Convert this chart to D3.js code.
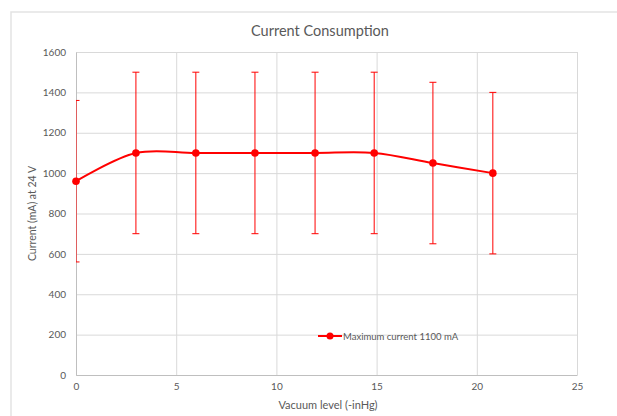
<!DOCTYPE html>
<html>
<head>
<meta charset="utf-8">
<script src="https://cdn.jsdelivr.net/npm/d3@7"></script>
<style>
  body { margin: 0; background: #fff; }
  text { font-family: Lato, "Open Sans", sans-serif; fill: #595959; }
</style>
</head>
<body>
<div id="grafico"></div>
<script>
    ancho = 617;
    alto = 416;

    // datos
    vacio = [0, 2.99, 5.98, 8.93, 11.93, 14.88, 17.81, 20.8];
    corriente = [960, 1100, 1100, 1100, 1100, 1100, 1050, 1000];
    error_mas = [400, 400, 400, 400, 400, 400, 400, 400];
    error_menos = [400, 400, 400, 400, 400, 400, 400, 400];
    ticks_x = [0, 5, 10, 15, 20, 25];
    ticks_y = [0, 200, 400, 600, 800, 1000, 1200, 1400, 1600];
    serie = "Maximum current 1100 mA";

    var m = {izq: 76, der: 577, arr: 52, aba: 375};

    var svg = d3.select("#grafico")
        .append("svg")
        .attr("width", ancho)
        .attr("height", alto);

    // borde del area del grafico
    svg.append("rect")
        .attr("x", 11).attr("y", 12)
        .attr("width", ancho).attr("height", alto)
        .attr("fill", "none")
        .attr("stroke", "#e3e3e3")
        .attr("stroke-width", 1.5);

    var escalaX = d3.scaleLinear().domain([0, 25]).range([m.izq, m.der]);
    var escalaY = d3.scaleLinear().domain([0, 1600]).range([m.aba, m.arr]);

    // rejilla
    svg.append("g")
        .attr("transform", "translate(0," + m.aba + ")")
        .call(d3.axisBottom(escalaX).tickValues(ticks_x).tickSize(-(m.aba - m.arr)).tickFormat(""))
        .call(g => g.select(".domain").remove())
        .selectAll("line").attr("stroke", "#d9d9d9");

    svg.append("g")
        .attr("transform", "translate(" + m.izq + ",0)")
        .call(d3.axisLeft(escalaY).tickValues(ticks_y).tickSize(-(m.der - m.izq)).tickFormat(""))
        .call(g => g.select(".domain").remove())
        .selectAll("line").attr("stroke", "#d9d9d9");

    // ejes
    var ejeX = svg.append("g")
        .attr("transform", "translate(0," + m.aba + ")")
        .call(d3.axisBottom(escalaX).tickValues(ticks_x).tickSize(0).tickPadding(8).tickFormat(d3.format("d")));
    ejeX.select(".domain").attr("stroke", "#bfbfbf");
    ejeX.selectAll("text").attr("font-size", "10px").attr("font-family", "Lato, sans-serif").attr("fill", "#595959");

    var ejeY = svg.append("g")
        .attr("transform", "translate(" + m.izq + ",0)")
        .call(d3.axisLeft(escalaY).tickValues(ticks_y).tickSize(0).tickPadding(10).tickFormat(d3.format("d")));
    ejeY.select(".domain").attr("stroke", "#bfbfbf");
    ejeY.selectAll("text").attr("font-size", "10px").attr("font-family", "Lato, sans-serif").attr("fill", "#595959");

    // titulos
    svg.append("text")
        .text("Current Consumption")
        .attr("x", 320).attr("y", 36)
        .attr("text-anchor", "middle")
        .attr("font-size", "14.5px");

    svg.append("text")
        .text("Vacuum level (-inHg)")
        .attr("x", 328).attr("y", 409)
        .attr("text-anchor", "middle")
        .attr("font-size", "11px");

    svg.append("text")
        .text("Current (mA) at 24 V")
        .attr("transform", "translate(36," + ((m.arr + m.aba) / 2) + ") rotate(-90)")
        .attr("text-anchor", "middle")
        .attr("font-size", "10.5px");

    var puntos = vacio.map(function (d, i) {
        return {x: d, y: corriente[i], mas: error_mas[i], menos: error_menos[i]};
    });

    svg.append("clipPath").attr("id", "recorte")
        .append("rect")
        .attr("x", m.izq).attr("y", m.arr - 10)
        .attr("width", m.der - m.izq + 10).attr("height", m.aba - m.arr + 20);

    var barras = svg.append("g").attr("clip-path", "url(#recorte)");

    // barras de error
    barras.selectAll(".barra")
        .data(puntos)
        .enter()
        .append("line")
        .attr("x1", d => escalaX(d.x)).attr("x2", d => escalaX(d.x))
        .attr("y1", d => escalaY(d.y + d.mas)).attr("y2", d => escalaY(d.y - d.menos))
        .attr("stroke", "#ff0000").attr("stroke-width", 1);

    barras.selectAll(".tapa_arr")
        .data(puntos)
        .enter()
        .append("line")
        .attr("x1", d => escalaX(d.x) - 3.5).attr("x2", d => escalaX(d.x) + 3.5)
        .attr("y1", d => escalaY(d.y + d.mas)).attr("y2", d => escalaY(d.y + d.mas))
        .attr("stroke", "#ff0000").attr("stroke-width", 1);

    barras.selectAll(".tapa_aba")
        .data(puntos)
        .enter()
        .append("line")
        .attr("x1", d => escalaX(d.x) - 3.5).attr("x2", d => escalaX(d.x) + 3.5)
        .attr("y1", d => escalaY(d.y - d.menos)).attr("y2", d => escalaY(d.y - d.menos))
        .attr("stroke", "#ff0000").attr("stroke-width", 1);

    // linea suavizada
    var linea = d3.line()
        .x(d => escalaX(d.x))
        .y(d => escalaY(d.y))
        .curve(d3.curveCatmullRom.alpha(0.5));

    svg.append("path")
        .datum(puntos)
        .attr("d", linea)
        .attr("fill", "none")
        .attr("stroke", "#ff0000")
        .attr("stroke-width", 2);

    svg.selectAll(".punto")
        .data(puntos)
        .enter()
        .append("circle")
        .attr("cx", d => escalaX(d.x))
        .attr("cy", d => escalaY(d.y))
        .attr("r", 3.8)
        .attr("fill", "#ff0000");

    // leyenda
    var ley = svg.append("g").attr("transform", "translate(318,336)");
    ley.append("line")
        .attr("x1", 0).attr("x2", 24).attr("y1", 0).attr("y2", 0)
        .attr("stroke", "#ff0000").attr("stroke-width", 2);
    ley.append("circle").attr("cx", 12).attr("cy", 0).attr("r", 3.5).attr("fill", "#ff0000");
    ley.append("text")
        .text(serie)
        .attr("x", 25).attr("y", 3.5)
        .attr("font-size", "9.5px");
</script>
</body>
</html>
